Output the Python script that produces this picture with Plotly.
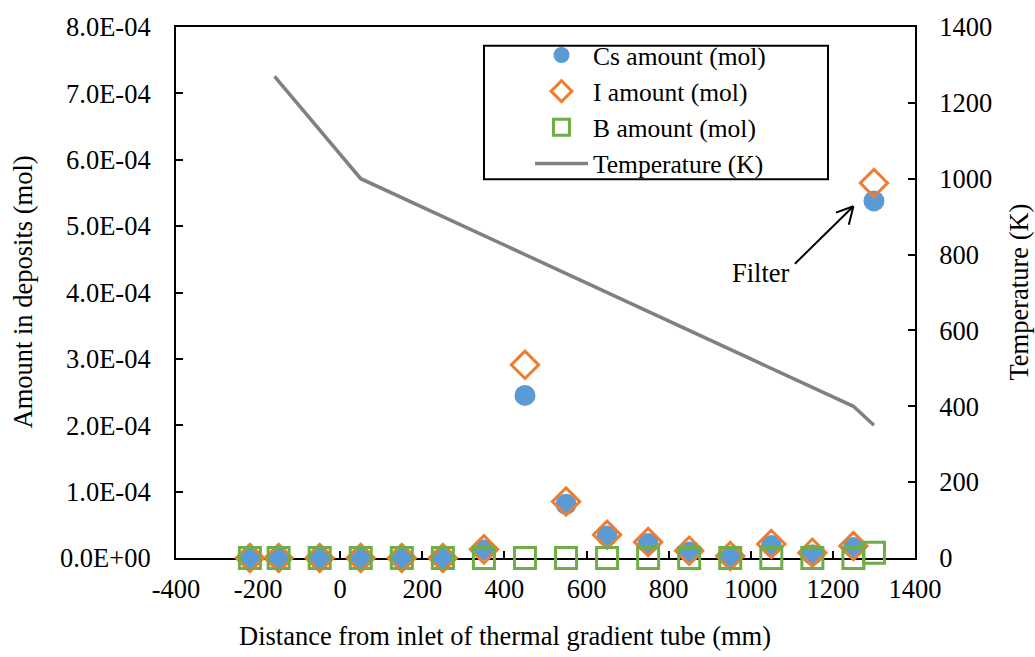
import plotly.graph_objects as go

# Sampling positions along the thermal gradient tube (mm); 1300 is the filter
distance_mm = [-220, -150, -50, 50, 150, 250, 350, 450, 550, 650, 750, 850, 950, 1050, 1150, 1250, 1300]

# Deposited amounts (mol)
cs_mol = [0, 0, 0, 0, 0, 0, 0.12e-4, 2.45e-4, 0.81e-4, 0.33e-4, 0.22e-4, 0.09e-4, 0.02e-4, 0.19e-4, 0.05e-4, 0.16e-4, 5.38e-4]
i_mol = [0, 0, 0, 0, 0, 0, 0.13e-4, 2.91e-4, 0.85e-4, 0.35e-4, 0.24e-4, 0.11e-4, 0.03e-4, 0.21e-4, 0.08e-4, 0.18e-4, 5.65e-4]
b_mol = [0, 0, 0, 0, 0, 0, 0, 0, 0, 0, 0, 0, 0, 0, 0, 0, 0.08e-4]

# Temperature profile of the tube (K)
temp_pos_mm = [-160, 50, 1250, 1300]
temp_k = [1270, 1000, 400, 350]

# Axis ticks
left_ticks = [0, 1e-4, 2e-4, 3e-4, 4e-4, 5e-4, 6e-4, 7e-4, 8e-4]
left_ticktext = [f"{v:.1E}" for v in left_ticks]
right_ticks = [0, 200, 400, 600, 800, 1000, 1200, 1400]
x_ticks = [-400, -200, 0, 200, 400, 600, 800, 1000, 1200, 1400]
x_ticktext = [str(v) for v in x_ticks]

FONT = "Times New Roman, Liberation Serif, serif"
FS = 26.5

# Plot area in pixels
L, R, T, B = 176, 120, 17, 99
PW, PH = 1035 - L - R, 657 - T - B


def px_x(p):
    return (p - L) / PW


def px_y(p):
    return (657 - B - p) / PH


fig = go.Figure()

fig.add_trace(go.Scatter(
    x=distance_mm, y=cs_mol, mode="markers", name="Cs amount (mol)",
    marker=dict(symbol="circle", size=21, color="#5B9BD5", line=dict(width=0)),
    cliponaxis=False,
))
fig.add_trace(go.Scatter(
    x=distance_mm, y=i_mol, mode="markers", name="I amount (mol)",
    marker=dict(symbol="diamond-open", size=21, color="#ED7D31", line=dict(width=3, color="#ED7D31")),
    cliponaxis=False,
))
fig.add_trace(go.Scatter(
    x=distance_mm, y=b_mol, mode="markers", name="B amount (mol)",
    marker=dict(symbol="square-open", size=21, color="#70AD47", line=dict(width=3, color="#70AD47")),
    cliponaxis=False,
))
fig.add_trace(go.Scatter(
    x=temp_pos_mm, y=temp_k, mode="lines", name="Temperature (K)",
    line=dict(color="#808080", width=3.5), yaxis="y2",
))

axis_common = dict(
    showgrid=False, zeroline=False, showline=True, linecolor="black", linewidth=2,
    ticks="inside", ticklen=7, tickwidth=2, tickcolor="black",
    tickfont=dict(family=FONT, size=FS, color="black"), layer="below traces",
)

fig.update_layout(
    width=1035, height=657,
    margin=dict(l=L, r=R, t=T, b=B),
    paper_bgcolor="white", plot_bgcolor="white",
    font=dict(family=FONT, size=FS, color="black"),
    xaxis=dict(range=[-400, 1400], tickvals=x_ticks, ticktext=x_ticktext, mirror=True,
               ticklabelstandoff=6, **axis_common),
    yaxis=dict(range=[0, 8e-4], tickvals=left_ticks, ticktext=left_ticktext, ticklabelstandoff=18, **axis_common),
    yaxis2=dict(range=[0, 1400], tickvals=right_ticks, overlaying="y", side="right",
                ticklabelstandoff=17, **axis_common),
    showlegend=True,
    legend=dict(
        x=px_x(530), y=px_y(22), xanchor="left", yanchor="top",
        bgcolor="rgba(0,0,0,0)", borderwidth=0,
        font=dict(family=FONT, size=25.5, color="black"),
        itemwidth=53, tracegroupgap=0,
    ),
)

# Legend frame
fig.add_shape(type="rect", xref="paper", yref="paper",
              x0=px_x(484), x1=px_x(828), y0=px_y(172), y1=px_y(36),
              line=dict(color="black", width=2), fillcolor="rgba(0,0,0,0)", layer="above")

# Axis titles
fig.add_annotation(text="Distance from inlet of thermal gradient tube (mm)", xref="paper", yref="paper",
                   x=px_x(505), y=px_y(637), xanchor="center", yanchor="middle", showarrow=False,
                   font=dict(family=FONT, size=FS))
fig.add_annotation(text="Amount in deposits (mol)", xref="paper", yref="paper",
                   x=px_x(22), y=0.5, xanchor="center", yanchor="middle", textangle=-90,
                   showarrow=False, font=dict(family=FONT, size=FS))
fig.add_annotation(text="Temperature (K)", xref="paper", yref="paper",
                   x=px_x(1018), y=0.5, xanchor="center", yanchor="middle", textangle=-90,
                   showarrow=False, font=dict(family=FONT, size=FS))

# Filter label and arrow (open V head built from two short strokes)
fig.add_annotation(text="Filter", x=1025, y=4.29e-4, xref="x", yref="y", showarrow=False,
                   font=dict(family=FONT, size=FS))
tip_x, tip_y = 1250, 5.30e-4
for ax, ay in [(-60, 59), (-19, 7), (-5, 20)]:
    fig.add_annotation(text="", x=tip_x, y=tip_y, xref="x", yref="y", ax=ax, ay=ay,
                       showarrow=True, arrowhead=0, arrowwidth=2, arrowcolor="black", standoff=0)

fig.write_html("out.html")
